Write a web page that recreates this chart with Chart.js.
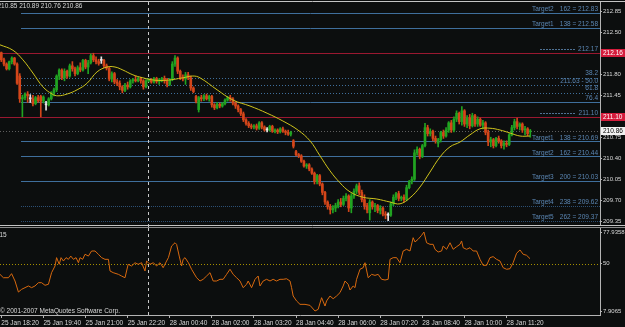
<!DOCTYPE html>
<html>
<head>
<meta charset="utf-8">
<script src="https://cdn.jsdelivr.net/npm/chart.js@4.4.1/dist/chart.umd.min.js"></script>
<style>
  html, body { margin: 0; padding: 0; background: #0c0e0e; }
  #wrap { position: relative; width: 625px; height: 327px; overflow: hidden; }
  .pane { position: absolute; left: 0; width: 625px; }
  #pricePane { top: 0; height: 228px; }
  #rsiPane { top: 226px; height: 101px; }
</style>
</head>
<body>
<div id="wrap">
  <div class="pane" id="pricePane"><canvas id="priceChart"></canvas></div>
  <div class="pane" id="rsiPane"><canvas id="rsiChart"></canvas></div>
</div>
<script>
// time axis: one label every 16 five-minute bars
const tickLabels = ['25 Jan 18:20', '25 Jan 19:40', '25 Jan 21:00', '25 Jan 22:20', '28 Jan 00:40',
  '28 Jan 02:00', '28 Jan 03:20', '28 Jan 04:40', '28 Jan 06:00', '28 Jan 07:20',
  '28 Jan 08:40', '28 Jan 10:00', '28 Jan 11:20'];
const barsPerTick = 16;
const totalSlots = 228;   // bar slots across the pane, empty ones on the right
const dayBreak = 55.7;    // period separator (start of 28 Jan)

// candles
const opens = [
  212.17,212.05,211.98,211.90,212.02,212.08,211.98,211.78,211.40,211.42,
  211.48,211.40,211.40,211.32,211.42,211.44,211.36,211.30,211.30,211.40,
  211.50,211.55,211.78,211.88,211.75,211.86,211.78,211.95,211.90,211.82,
  211.92,211.88,212.04,211.93,212.00,212.12,212.05,212.02,212.04,212.04,
  211.95,211.91,211.73,211.82,211.68,211.66,211.60,211.54,211.63,211.60,
  211.70,211.72,211.70,211.74,211.70,211.60,211.70,211.72,211.68,211.74,
  211.69,211.72,211.74,211.70,211.64,211.72,211.98,212.08,211.86,211.75,
  211.73,211.80,211.75,211.58,211.44,211.22,211.42,211.40,211.45,211.40,
  211.44,211.30,211.25,211.31,211.28,211.32,211.38,211.42,211.40,211.33,
  211.28,211.22,211.15,211.05,210.99,210.95,210.93,210.95,210.91,211.00,
  210.93,210.88,210.88,210.94,210.86,210.88,210.85,210.90,210.86,210.84,
  210.81,210.70,210.52,210.47,210.45,210.36,210.28,210.30,210.23,210.16,
  210.02,210.12,209.98,209.84,209.68,209.60,209.55,209.58,209.62,209.68,
  209.64,209.74,209.78,209.58,209.78,209.86,209.95,209.84,209.72,209.62,
  209.50,209.68,209.60,209.62,209.54,209.58,209.48,209.46,209.46,209.65,
  209.76,209.82,209.74,209.76,209.72,209.92,210.02,210.06,210.50,210.56,
  210.44,210.62,210.92,210.82,210.86,210.74,210.66,210.72,210.84,210.78,
  210.88,211.00,210.88,211.06,211.16,211.02,211.20,210.98,211.08,210.95,
  211.12,210.98,211.06,210.96,211.00,210.84,210.68,210.72,210.62,210.74,
  210.70,210.62,210.66,210.64,210.80,210.92,211.02,210.94,210.98,210.88,
  210.90,210.85];
const highs = [
  212.18,212.08,212.00,212.03,212.10,212.09,212.00,211.82,211.46,211.50,
  211.52,211.47,211.46,211.44,211.46,211.46,211.45,211.36,211.42,211.52,
  211.58,211.80,211.90,211.90,211.90,211.88,211.98,212.02,211.93,211.95,
  212.00,212.06,212.06,212.04,212.15,212.16,212.10,212.06,212.10,212.06,
  211.98,211.93,211.85,211.84,211.72,211.70,211.62,211.66,211.68,211.72,
  211.74,211.78,211.76,211.76,211.72,211.72,211.74,211.74,211.76,211.76,
  211.74,211.76,211.78,211.74,211.74,212.02,212.12,212.10,211.88,211.80,
  211.84,211.84,211.78,211.60,211.46,211.44,211.46,211.47,211.48,211.46,
  211.46,211.32,211.34,211.33,211.34,211.40,211.44,211.46,211.42,211.35,
  211.30,211.24,211.18,211.07,211.02,210.98,210.97,210.98,211.02,211.02,
  210.95,210.92,210.96,210.96,210.90,210.90,210.92,210.93,210.88,210.88,
  210.86,210.72,210.54,210.49,210.47,210.38,210.32,210.32,210.25,210.18,
  210.14,210.14,210.00,209.86,209.70,209.64,209.62,209.66,209.72,209.74,
  209.78,209.82,209.80,209.82,209.90,209.98,210.00,209.88,209.80,209.66,
  209.72,209.70,209.66,209.64,209.62,209.60,209.52,209.50,209.68,209.80,
  209.84,209.86,209.78,209.80,209.96,210.04,210.10,210.55,210.60,210.58,
  210.64,210.99,210.96,210.90,210.88,210.78,210.74,210.86,210.88,210.92,
  211.02,211.04,211.10,211.20,211.18,211.27,211.22,211.12,211.14,211.16,
  211.14,211.10,211.08,211.04,211.02,210.88,210.76,210.74,210.76,210.78,
  210.72,210.70,210.70,210.82,210.96,211.06,211.08,211.00,211.00,210.94,
  210.92,210.89];
const lows = [
  212.02,211.95,211.88,211.88,211.98,211.96,211.64,211.34,211.10,211.38,
  211.34,211.34,211.28,211.30,211.34,211.10,211.33,211.21,211.28,211.38,
  211.45,211.52,211.72,211.72,211.70,211.74,211.76,211.86,211.78,211.80,
  211.85,211.86,211.90,211.82,211.98,212.02,211.98,211.96,211.99,211.92,
  211.88,211.70,211.68,211.65,211.62,211.55,211.50,211.52,211.56,211.58,
  211.66,211.68,211.68,211.66,211.56,211.58,211.68,211.66,211.66,211.66,
  211.64,211.68,211.66,211.60,211.62,211.70,211.94,211.82,211.72,211.70,
  211.64,211.72,211.54,211.50,211.33,211.18,211.36,211.37,211.38,211.36,
  211.26,211.22,211.23,211.25,211.26,211.30,211.36,211.36,211.30,211.24,
  211.18,211.12,211.02,210.96,210.92,210.90,210.90,210.88,210.89,210.90,
  210.86,210.85,210.86,210.84,210.83,210.82,210.83,210.84,210.80,210.79,
  210.78,210.58,210.45,210.42,210.34,210.26,210.24,210.20,210.14,209.98,
  209.98,209.95,209.80,209.64,209.56,209.48,209.50,209.52,209.58,209.60,
  209.62,209.70,209.52,209.50,209.74,209.82,209.80,209.68,209.56,209.50,
  209.38,209.56,209.52,209.50,209.48,209.45,209.40,209.37,209.44,209.62,
  209.72,209.70,209.70,209.68,209.70,209.90,209.98,210.04,210.46,210.40,
  210.42,210.60,210.78,210.78,210.70,210.66,210.60,210.68,210.74,210.76,
  210.84,210.84,210.85,211.02,210.98,210.96,210.94,210.92,210.90,210.93,
  210.94,210.94,210.94,210.90,210.80,210.62,210.60,210.58,210.60,210.66,
  210.58,210.56,210.60,210.62,210.78,210.88,210.90,210.88,210.84,210.80,
  210.78,210.76];
const closes = [
  212.05,211.98,211.90,212.02,212.08,211.98,211.66,211.40,211.42,211.48,
  211.45,211.40,211.32,211.42,211.37,211.36,211.43,211.30,211.40,211.50,
  211.55,211.78,211.88,211.75,211.86,211.78,211.95,211.90,211.82,211.92,
  211.88,212.04,211.93,212.00,212.12,212.05,212.02,211.99,212.04,211.95,
  211.91,211.73,211.82,211.68,211.66,211.60,211.54,211.63,211.60,211.70,
  211.72,211.70,211.74,211.70,211.60,211.70,211.72,211.68,211.74,211.69,
  211.72,211.74,211.70,211.64,211.72,211.98,212.08,211.86,211.75,211.73,
  211.80,211.75,211.58,211.52,211.36,211.42,211.40,211.45,211.40,211.44,
  211.30,211.25,211.31,211.28,211.32,211.38,211.42,211.40,211.33,211.28,
  211.22,211.15,211.05,210.99,210.95,210.93,210.95,210.91,211.00,210.93,
  210.88,210.88,210.94,210.86,210.88,210.85,210.90,210.86,210.84,210.81,
  210.84,210.61,210.47,210.45,210.36,210.28,210.30,210.23,210.16,210.02,
  210.12,209.98,209.84,209.68,209.60,209.55,209.58,209.62,209.68,209.64,
  209.74,209.78,209.58,209.78,209.86,209.95,209.84,209.72,209.62,209.55,
  209.68,209.60,209.62,209.54,209.58,209.48,209.46,209.46,209.65,209.76,
  209.82,209.74,209.76,209.72,209.92,210.02,210.06,210.50,210.56,210.44,
  210.62,210.92,210.82,210.86,210.74,210.70,210.72,210.84,210.78,210.88,
  211.00,210.88,211.06,211.16,211.02,211.20,210.98,211.08,210.95,211.12,
  210.98,211.06,210.96,211.00,210.84,210.68,210.72,210.62,210.74,210.70,
  210.62,210.66,210.64,210.80,210.92,211.02,210.94,210.98,210.88,210.90,
  210.82,210.86];

// moving average, sampled along the yellow curve (bar position, price)
const maPos = [-0.5,4.4,8.2,12,15.8,19.3,21.5,25,28.8,32.6,36.4,40.2,43.2,46.2,50,53.8,58.4,63,69,72.8,
  75.5,82,88,94.5,101,107,112.7,117.3,121.1,124.9,128.7,132.5,137.4,142.7,147.7,151.5,155.3,159.1,162.9,166.7,
  170.5,174.3,178.1,181.9,185.7,189.5,193.3,197.1,200.9];
const maVal = [212.30,212.21,212.05,211.83,211.60,211.48,211.45,211.48,211.55,211.66,211.85,211.93,211.93,211.88,211.80,211.75,211.71,211.71,211.75,211.78,
  211.75,211.55,211.38,211.28,211.16,211.03,210.88,210.70,210.45,210.20,210.00,209.85,209.76,209.73,209.68,209.65,209.75,209.93,210.18,210.43,
  210.60,210.68,210.80,210.90,210.91,210.88,210.83,210.78,210.78];

// RSI(15) sampled along the orange line (bar position, value)
const rsiPos = [-0.5,0.8,2.7,3.9,5.2,6.5,7.7,9.0,10.3,11.5,12.8,14.1,15.3,16.6,17.9,19.1,20.4,21.0,22.0,22.7,
  23.6,24.6,25.5,26.4,27.4,28.4,29.3,29.9,30.9,31.8,33.1,34.3,35.6,36.9,38.1,39.4,40.7,41.3,42.5,44.5,
  45.7,47.0,48.2,49.5,50.8,52.0,53.3,54.6,55.2,56.5,57.8,59.0,60.3,61.5,62.8,63.5,64.7,66.0,66.6,67.6,
  68.5,69.1,69.8,71.1,72.3,74.2,75.5,76.7,78.0,79.3,80.5,81.8,83.1,84.3,85.6,86.9,88.1,89.4,90.7,91.9,
  93.2,93.8,95.1,96.4,97.6,98.3,99.5,100.8,102.1,103.3,104.6,105.9,107.1,108.4,109.7,110.3,110.9,112.2,113.5,115.4,
  117.3,119.2,120.4,121.7,123.0,123.6,124.9,126.1,127.4,128.7,129.9,130.6,131.8,132.5,133.7,134.4,135.0,136.3,137.5,138.2,
  139.4,140.7,142.0,143.2,144.5,145.8,147.0,147.7,148.9,150.2,151.5,152.7,154.0,155.3,156.5,157.2,158.4,159.7,160.6,161.6,
  162.9,164.1,164.8,166.0,167.3,167.9,169.2,170.5,171.7,173.0,174.3,174.9,175.5,176.8,178.1,179.3,180.6,181.9,183.1,184.4,
  185.7,186.9,188.2,189.5,190.7,192.0,193.3,194.5,195.8,197.1,198.3,199.6,200.9];
const rsiVal = [40.4,37.4,37.4,41.0,34.5,24.7,27.1,28.6,30.1,28.6,30.1,33.0,33.0,30.7,31.6,41.9,47.8,55.2,49.3,55.2,
  52.2,55.2,53.7,56.6,53.7,55.2,50.7,55.2,53.7,58.2,56.6,61.1,61.1,58.2,55.2,53.7,53.7,43.4,41.9,40.4,
  38.9,37.4,49.3,47.8,50.7,49.3,50.7,43.4,52.2,49.3,50.7,47.8,50.7,46.3,52.2,55.2,65.5,68.4,67.0,56.6,
  47.8,53.7,55.2,50.7,44.9,37.4,34.5,36.0,38.9,41.9,34.5,34.5,36.0,36.0,40.4,44.9,40.4,37.4,34.5,28.6,
  31.6,34.5,28.6,36.0,38.9,30.1,34.5,36.0,34.5,36.0,34.5,36.0,36.0,36.5,34.5,28.6,21.2,16.8,13.8,13.8,
  12.9,7.9065,9.4,19.7,12.3,16.8,21.2,18.8,21.2,24.2,30.1,34.5,31.6,26.5,30.1,28.6,36.0,44.9,46.3,50.7,
  37.4,40.4,39.5,40.4,36.0,35.4,36.0,53.7,55.2,55.2,50.7,61.1,62.6,61.1,72.9,69.1,71.5,75.0,77.9358,68.4,
  67.0,67.0,62.6,60.2,61.1,65.5,62.6,68.4,62.6,64.9,67.0,70.0,64.0,62.6,64.0,61.1,61.1,53.7,48.4,48.4,
  55.2,56.1,53.7,52.2,46.3,44.9,45.4,50.7,59.1,62.0,58.2,57.3,54.3];

// axis values and drawn levels
const priceTicks = [212.85, 212.50, 211.80, 211.45, 210.75, 210.40, 210.05, 209.70, 209.35];
const rsiTicks = [7.9065, 50, 77.9358];
const targetNames = ['Target2', 'Target1', 'Target1', 'Target2', 'Target3', 'Target4', 'Target5'];
const targetRatios = [162, 138, 138, 162, 200, 238, 262];
const targetPrices = [212.83, 212.58, 210.69, 210.44, 210.03, 209.62, 209.37];
const fibRatios = ['38.2', '50.0', '61.8', '76.4'];
const fibPrices = [211.755, 211.63, 211.505, 211.35];
const swingPrices = [212.16, 211.10];
const swingTexts = ['212.17', '211.10'];
const bidPrice = 210.86;
const lastQuote = '210.85 210.89 210.76 210.86';

const FONT = '6.5px "Liberation Sans", Arial, sans-serif';
const AXIS = '#b4b4b4';
const TEXT = '#d8d8d8';
const LEVEL_TEXT = '#5b86b3';
const UP = '#21a321', DOWN = '#d4461a', DOJI = '#e6e6e6';

const candleColors = closes.map((c, i) => c > opens[i] ? UP : (c < opens[i] ? DOWN : DOJI));

function hline(ctx, x0, x1, yy, color, dash) {
  const py = Math.round(yy) + 0.5;
  ctx.strokeStyle = color;
  ctx.setLineDash(dash);
  ctx.beginPath();
  ctx.moveTo(x0, py);
  ctx.lineTo(x1, py);
  ctx.stroke();
}

function txt(ctx, s, x, y, color, align) {
  ctx.fillStyle = color;
  ctx.textAlign = align;
  ctx.fillText(s, x, y);
}

const priceOverlay = {
  id: 'priceOverlay',
  beforeDatasetsDraw(chart) {
    const { ctx, chartArea: a, scales: { x, y } } = chart;
    ctx.save();
    ctx.lineWidth = 1;
    ctx.font = FONT;
    ctx.textBaseline = 'middle';

    hline(ctx, 0, a.right, y.getPixelForValue(bidPrice), '#5e5e5e', [1, 2]);

    swingPrices.forEach((p, i) => {
      const py = y.getPixelForValue(p);
      hline(ctx, 0, a.right, py, '#9a1830', []);
      hline(ctx, 540, 576, py - 4, '#4f7194', [2, 1]);
      txt(ctx, swingTexts[i], 598, py - 4, LEVEL_TEXT, 'right');
    });

    fibRatios.forEach((r, i) => {
      const py = y.getPixelForValue(fibPrices[i]);
      hline(ctx, 21, a.right, py, '#3f6f9c', r === '76.4' ? [] : [1, 2]);
      const s = r === '50.0' ? fibPrices[i].toFixed(2) + ' - ' + r : r;
      txt(ctx, s, 598, py - 4, LEVEL_TEXT, 'right');
    });

    targetNames.forEach((name, i) => {
      const py = y.getPixelForValue(targetPrices[i]);
      const far = targetRatios[i] >= 238;
      hline(ctx, 21, a.right, py, far ? '#2c4f74' : '#3f6f9c', far ? [1, 1] : []);
      txt(ctx, name, 532, py - 3.5, LEVEL_TEXT, 'left');
      txt(ctx, targetRatios[i] + ' = ' + targetPrices[i].toFixed(2), 598, py - 3.5, LEVEL_TEXT, 'right');
    });

    // period separator
    const bx = Math.round(x.getPixelForValue(dayBreak)) + 0.5;
    ctx.strokeStyle = '#c8c8c8';
    ctx.setLineDash([3, 3]);
    ctx.beginPath();
    ctx.moveTo(bx, a.top);
    ctx.lineTo(bx, chart.height);
    ctx.stroke();
    ctx.restore();
  },
  afterDraw(chart) {
    const { ctx, chartArea: a, scales: { y } } = chart;
    ctx.save();
    ctx.font = FONT;
    ctx.textBaseline = 'middle';
    // frame
    hline(ctx, 0, chart.width, 1, '#c4c4c4', []);
    hline(ctx, 0, chart.width, 225, '#c4c4c4', []);
    hline(ctx, 0, chart.width, 227, '#8a8a8a', []);
    // price boxes on the axis
    const boxes = [[swingPrices[0], '#d41c3c', '#ffffff'], [swingPrices[1], '#d41c3c', '#ffffff'], [bidPrice, '#f2f2f2', '#000000']];
    boxes.forEach(([p, bg, fg]) => {
      const py = Math.round(y.getPixelForValue(p));
      ctx.fillStyle = bg;
      ctx.fillRect(a.right + 1, py - 4, 24, 8);
      txt(ctx, p.toFixed(2), a.right + 3, py, fg, 'left');
    });
    txt(ctx, lastQuote, -2.5, 6, TEXT, 'left');
    ctx.restore();
  }
};

const rsiOverlay = {
  id: 'rsiOverlay',
  beforeDatasetsDraw(chart) {
    const { ctx, chartArea: a, scales: { x, y } } = chart;
    ctx.save();
    ctx.lineWidth = 1;
    hline(ctx, 0, a.right, y.getPixelForValue(50), '#a48e00', [1, 2]);
    const bx = Math.round(x.getPixelForValue(dayBreak)) + 0.5;
    ctx.strokeStyle = '#c8c8c8';
    ctx.setLineDash([3, 3]);
    ctx.beginPath();
    ctx.moveTo(bx, 2);
    ctx.lineTo(bx, a.bottom);
    ctx.stroke();
    ctx.restore();
  },
  afterDraw(chart) {
    const { ctx } = chart;
    ctx.save();
    ctx.font = FONT;
    ctx.textBaseline = 'middle';
    txt(ctx, '15', -0.5, 9.5, TEXT, 'left');
    txt(ctx, '\u00a9 2001-2007 MetaQuotes Software Corp.', 0, 85, TEXT, 'left');
    ctx.restore();
  }
};

function rightAxis(min, max, values, fmt) {
  return {
    position: 'right',
    min: min,
    max: max,
    afterBuildTicks: s => { s.ticks = values.map(v => ({ value: v })); },
    afterFit: s => { s.width = 25; s.paddingTop = 0; s.paddingBottom = 0; },
    ticks: { color: TEXT, font: { family: 'Liberation Sans', size: 6 }, padding: 1, callback: fmt },
    grid: { drawOnChartArea: false, drawTicks: true, tickLength: 2, color: AXIS },
    border: { display: true, color: AXIS }
  };
}

new Chart(document.getElementById('priceChart'), {
  type: 'bar',
  data: {
    datasets: [
      {
        type: 'line',
        label: 'MA',
        data: maPos.map((p, i) => ({ x: p, y: maVal[i] })),
        borderColor: '#cfc41c',
        borderWidth: 1,
        pointRadius: 0,
        tension: 0.4
      },
      {
        label: 'body',
        data: opens.map((o, i) => ({ x: i, y: [o, closes[i]] })),
        backgroundColor: candleColors,
        barThickness: 2,
        minBarLength: 1,
        grouped: false
      },
      {
        label: 'wick',
        data: lows.map((l, i) => ({ x: i, y: [l, highs[i]] })),
        backgroundColor: candleColors,
        barThickness: 1,
        grouped: false
      }
    ]
  },
  options: {
    animation: false,
    responsive: true,
    maintainAspectRatio: false,
    devicePixelRatio: 1,
    layout: { padding: { top: 2, bottom: 3, left: 0, right: 0 } },
    plugins: { legend: { display: false }, tooltip: { enabled: false } },
    scales: {
      x: { type: 'linear', min: -0.5, max: totalSlots - 0.5, offset: false, display: false },
      y: rightAxis(213.047 - 225 / 60, 213.047 - 2 / 60, priceTicks, v => v.toFixed(2))
    }
  },
  plugins: [priceOverlay]
});

new Chart(document.getElementById('rsiChart'), {
  type: 'line',
  data: {
    datasets: [{
      label: 'RSI',
      data: rsiPos.map((p, i) => ({ x: p, y: rsiVal[i] })),
      borderColor: '#d8690f',
      borderWidth: 1,
      pointRadius: 0,
      tension: 0
    }]
  },
  options: {
    animation: false,
    responsive: true,
    maintainAspectRatio: false,
    devicePixelRatio: 1,
    layout: { padding: { top: 2, bottom: 0, left: 0, right: 0 } },
    plugins: { legend: { display: false }, tooltip: { enabled: false } },
    scales: {
      x: {
        type: 'linear',
        min: -0.5,
        max: totalSlots - 0.5,
        offset: false,
        afterBuildTicks: s => { s.ticks = tickLabels.map((_, i) => ({ value: i * barsPerTick })); },
        afterFit: s => { s.height = 12; s.paddingLeft = 0; s.paddingRight = 0; },
        ticks: {
          color: TEXT,
          font: { family: 'Liberation Sans', size: 6.5 },
          padding: 1,
          align: 'start',
          maxRotation: 0,
          autoSkip: false,
          callback: v => tickLabels[Math.round(v / barsPerTick)]
        },
        grid: { drawOnChartArea: false, drawTicks: true, tickLength: 3, color: AXIS },
        border: { display: true, color: AXIS }
      },
      y: rightAxis(7.9065 - 4 * 0.8865, 7.9065 + 83 * 0.8865, rsiTicks, v => String(v))
    }
  },
  plugins: [rsiOverlay]
});
</script>
</body>
</html>
